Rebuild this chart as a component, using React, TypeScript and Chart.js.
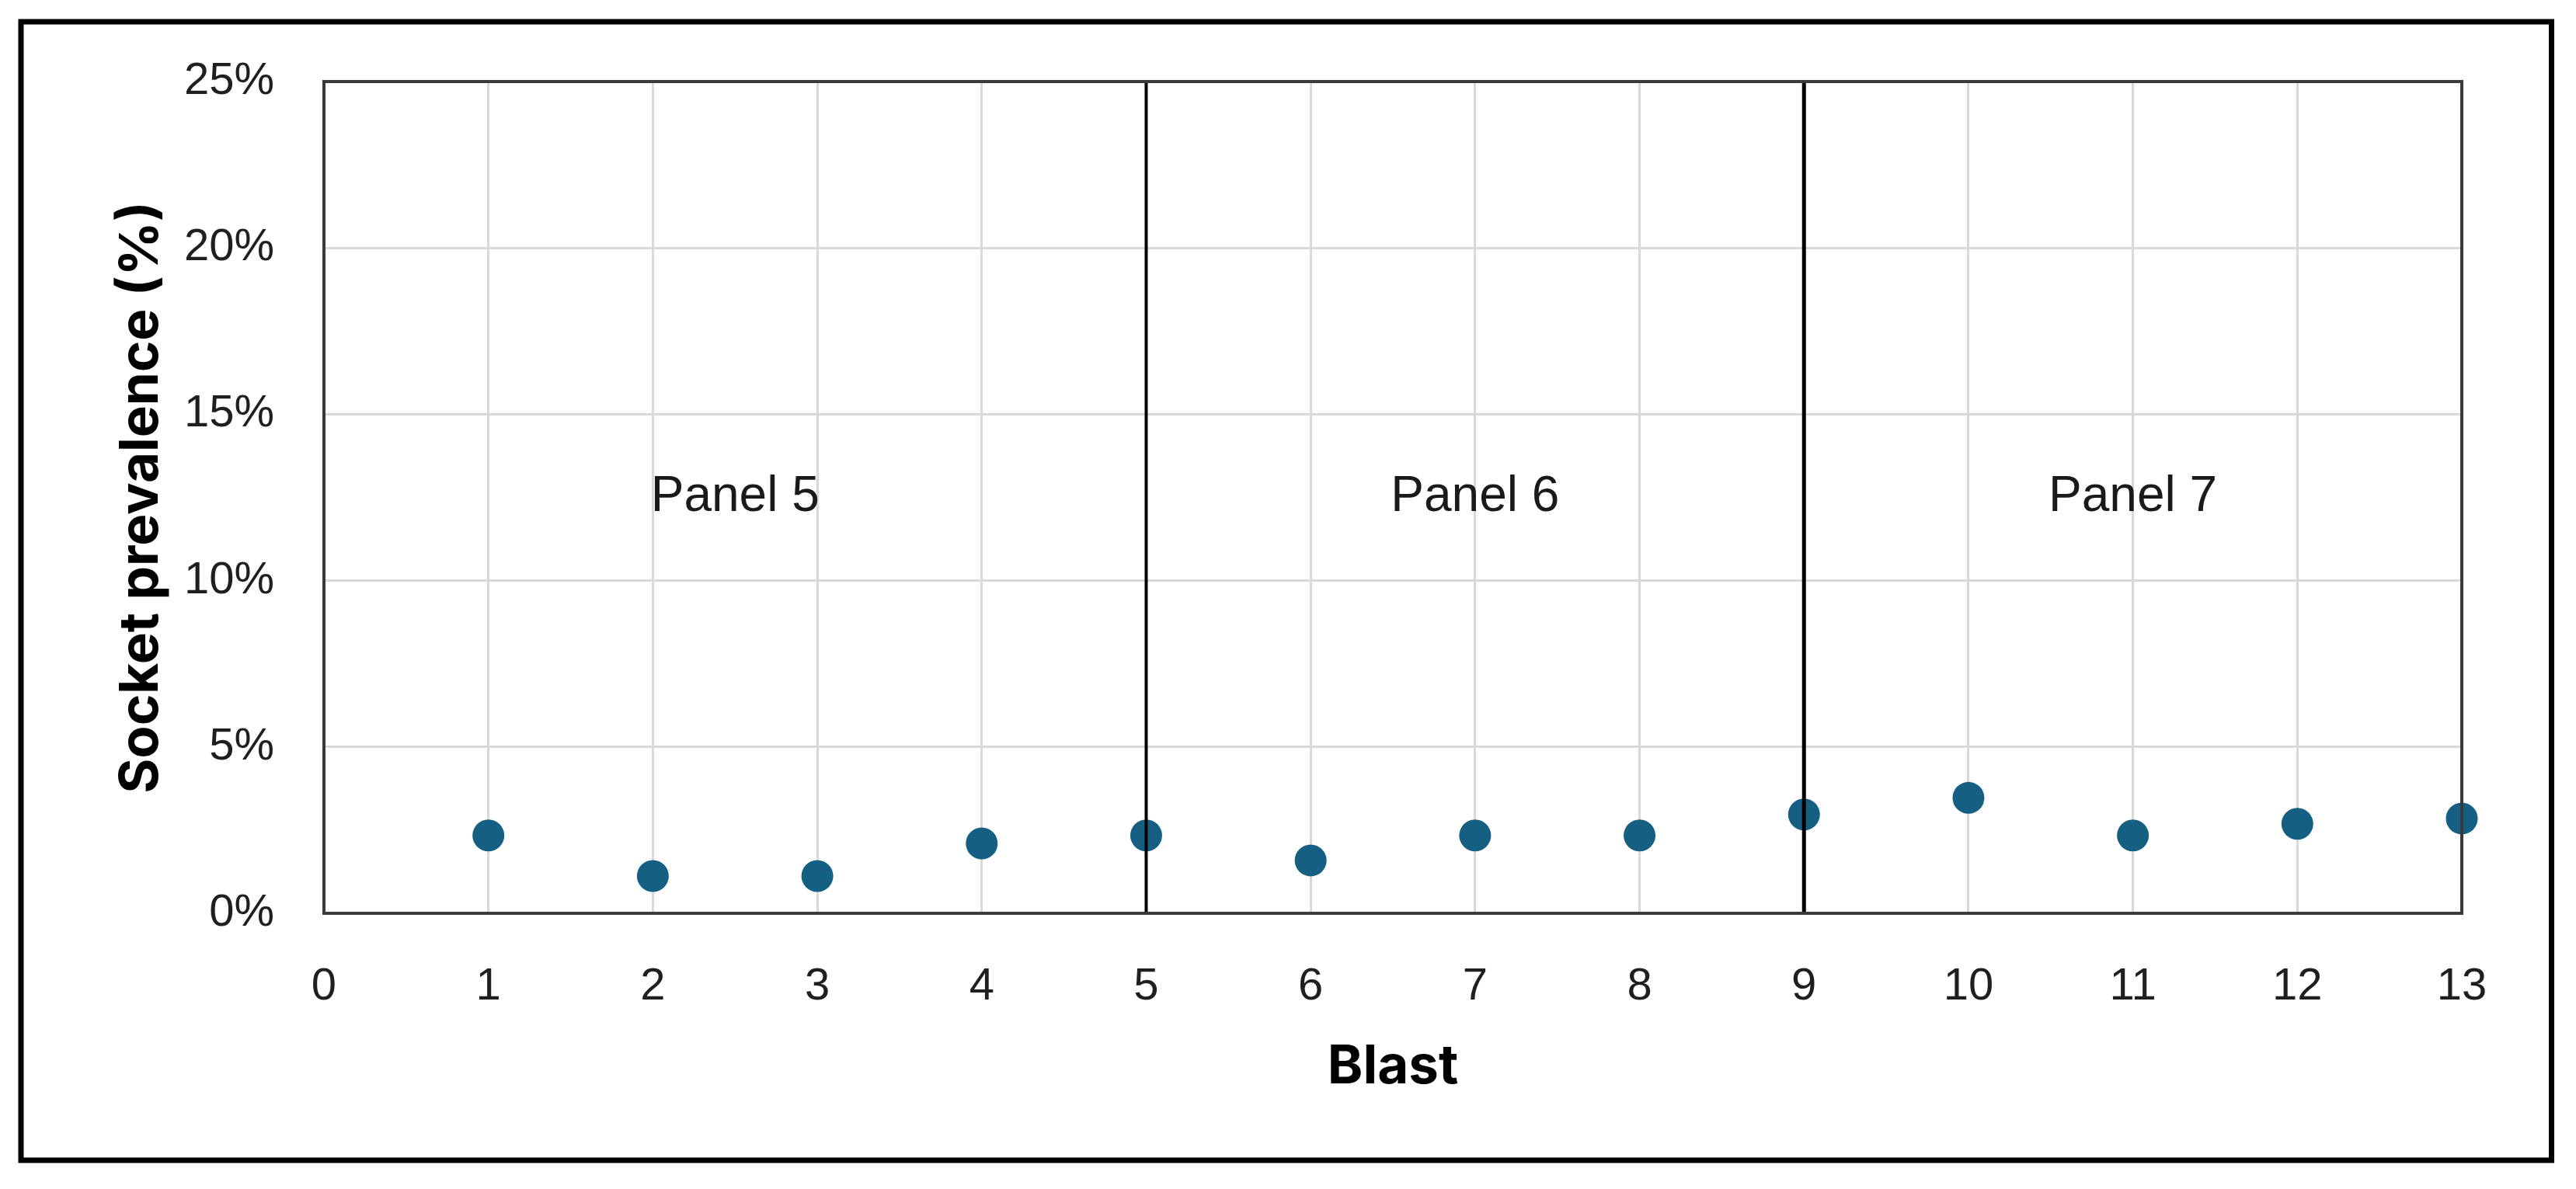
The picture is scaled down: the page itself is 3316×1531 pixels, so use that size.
import React, { useEffect, useRef } from 'react';
import { Chart, registerables } from 'chart.js';

Chart.register(...registerables);

// ---- Data ----
const blasts = [1, 2, 3, 4, 5, 6, 7, 8, 9, 10, 11, 12, 13];
const prevalence = [2.34, 1.12, 1.12, 2.1, 2.34, 1.59, 2.34, 2.34, 2.97, 3.47, 2.34, 2.69, 2.85];
const panelDividers = [5, 9];
const panelLabels = ['Panel 5', 'Panel 6', 'Panel 7'];
const panelLabelX = [2.5, 7, 11];
const panelLabelY = 12.5;
const xRange = [0, 13];
const yRange = [0, 25];
const yStep = 5;

const W = 3316;
const H = 1531;

const outerBorder = {
  id: 'outerBorder',
  beforeDraw(chart: any) {
    const { ctx } = chart;
    ctx.save();
    ctx.fillStyle = '#ffffff';
    ctx.fillRect(0, 0, chart.width, chart.height);
    ctx.restore();
  },
  afterDraw(chart: any) {
    const { ctx } = chart;
    ctx.save();
    ctx.strokeStyle = '#000000';
    ctx.lineWidth = 7;
    ctx.strokeRect(27, 28, 3284.5 - 27, 1494 - 28);
    ctx.restore();
  },
};

const plotFrame = {
  id: 'plotFrame',
  afterDatasetsDraw(chart: any) {
    const { ctx, chartArea, scales } = chart;
    ctx.save();
    ctx.strokeStyle = '#3a3a3a';
    ctx.lineWidth = 4;
    ctx.strokeRect(chartArea.left, chartArea.top, chartArea.right - chartArea.left, chartArea.bottom - chartArea.top);
    ctx.fillStyle = '#1a1a1a';
    ctx.font = '64px "Liberation Sans", Arial, sans-serif';
    ctx.textAlign = 'center';
    ctx.textBaseline = 'middle';
    panelLabels.forEach((t, i) => {
      ctx.fillText(t, scales.x.getPixelForValue(panelLabelX[i]), scales.y.getPixelForValue(panelLabelY));
    });
    ctx.restore();
  },
};

export default function App() {
  const ref = useRef<HTMLCanvasElement | null>(null);

  useEffect(() => {
    if (!ref.current) return;
    const dividerSets = panelDividers.map((d, i) => ({
      type: 'scatter' as const,
      data: [
        { x: d, y: yRange[0] },
        { x: d, y: yRange[1] },
      ],
      showLine: true,
      borderColor: '#000000',
      borderWidth: i === 0 ? 4 : 5,
      pointRadius: 0,
      order: 0,
      clip: false as any,
    }));
    const chart = new Chart(ref.current, {
      type: 'scatter',
      data: {
        datasets: [
          ...dividerSets,
          {
            label: 'Socket prevalence',
            data: blasts.map((b, i) => ({ x: b, y: prevalence[i] })),
            backgroundColor: '#156082',
            borderColor: '#156082',
            borderWidth: 0,
            pointRadius: 20.5,
            pointHoverRadius: 20.5,
            order: 1,
            clip: false as any,
          },
        ],
      },
      options: {
        responsive: false,
        animation: false,
        devicePixelRatio: 1,
        layout: { padding: { left: 0, top: 105, right: W - 3169, bottom: 0 } },
        plugins: { legend: { display: false }, tooltip: { enabled: false } },
        scales: {
          x: {
            type: 'linear',
            min: xRange[0],
            max: xRange[1],
            afterFit: (s: any) => {
              s.height = H - 1176;
            },
            ticks: {
              stepSize: 1,
              padding: 60,
              color: '#1f1f1f',
              font: { family: '"Liberation Sans", Arial, sans-serif', size: 58 },
              callback: (v: any) => String(v),
            },
            grid: { color: '#d9d9d9', lineWidth: 3, drawTicks: false },
            border: { display: false },
            title: {
              display: true,
              text: 'Blast',
              color: '#000000',
              font: { family: 'Inter, Roboto, "Liberation Sans", sans-serif', size: 69, weight: 'bold' },
              padding: { top: 0, bottom: 115 },
            },
          },
          y: {
            type: 'linear',
            min: yRange[0],
            max: yRange[1],
            afterFit: (s: any) => {
              s.width = 417;
            },
            ticks: {
              stepSize: yStep,
              padding: 64,
              color: '#1f1f1f',
              font: { family: '"Liberation Sans", Arial, sans-serif', size: 58 },
              callback: (v: any) => v + '%',
            },
            grid: { color: '#d9d9d9', lineWidth: 3, drawTicks: false },
            border: { display: false },
            title: {
              display: true,
              text: 'Socket prevalence (%)',
              color: '#000000',
              font: { family: 'Inter, Roboto, "Liberation Sans", sans-serif', size: 69, weight: 'bold' },
              padding: { top: 141, bottom: 0 },
            },
          },
        },
      },
      plugins: [outerBorder, plotFrame],
    });
    return () => chart.destroy();
  }, []);

  return (
    <div style={{ position: 'fixed', left: 0, top: 0, width: W, height: H, background: '#fff' }}>
      <canvas ref={ref} width={W} height={H} style={{ display: 'block', width: W, height: H }} />
    </div>
  );
}
